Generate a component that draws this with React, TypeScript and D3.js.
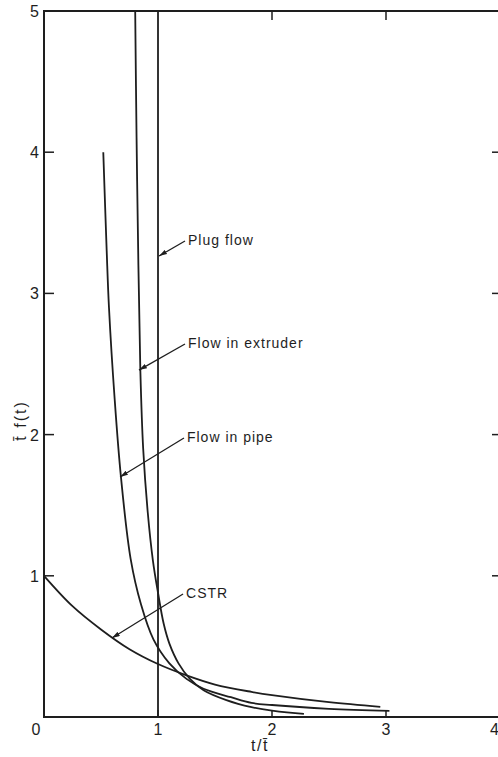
import React from "react";
import * as d3 from "d3";

// values: t/tbar vs tbar*f(t)
const cstr = [
  [0, 1.0], [0.25, 0.785], [0.5, 0.62], [0.75, 0.48], [1.0, 0.375],
  [1.25, 0.295], [1.5, 0.23], [1.82, 0.178], [2.0, 0.155], [2.5, 0.105], [2.95, 0.072],
];
const pipe = [
  [0.52, 4.0], [0.55, 3.3], [0.57, 2.9], [0.62, 2.25], [0.675, 1.7], [0.76, 1.12],
  [0.85, 0.8], [0.96, 0.55], [1.1, 0.38], [1.25, 0.27], [1.4, 0.2], [1.64, 0.14],
  [1.82, 0.1], [2.0, 0.085], [2.5, 0.058], [3.03, 0.043],
];
const extruder = [
  [0.8, 5.0], [0.812, 4.1], [0.828, 3.2], [0.845, 2.46], [0.87, 1.9], [0.91, 1.45],
  [0.955, 1.11], [1.0, 0.88], [1.05, 0.66], [1.1, 0.52], [1.18, 0.38], [1.28, 0.27],
  [1.4, 0.19], [1.6, 0.12], [1.82, 0.07], [2.0, 0.045], [2.28, 0.022],
];
const plug = [[1, 0], [1, 5]];

const xTicks = [0, 1, 2, 3, 4];
const yTicks = [1, 2, 3, 4, 5];

// label: text position and arrow tip, in data units
const labels = [
  { text: "Plug flow", x: 1.263, y: 3.343, tipX: 1.009, tipY: 3.265 },
  { text: "Flow in extruder", x: 1.263, y: 2.613, tipX: 0.833, tipY: 2.457 },
  { text: "Flow in pipe", x: 1.254, y: 1.948, tipX: 0.667, tipY: 1.7 },
  { text: "CSTR", x: 1.246, y: 0.843, tipX: 0.596, tipY: 0.559 },
];

const W = 498, H = 757;
const ink = "#1e1e1e";
const font = "'Liberation Sans', Arial, sans-serif";

const App = () => {
  const x = d3.scaleLinear().domain([0, 4]).range([44, 500]);
  const y = d3.scaleLinear().domain([0, 5]).range([717, 11]);
  const line = d3.line<number[]>()
    .x(d => x(d[0]))
    .y(d => y(d[1]))
    .curve(d3.curveCatmullRom.alpha(0.5));

  const [x0, x1] = x.range();
  const [y0, y1] = y.range();

  return (
    <svg width={W} height={H} style={{ position: "absolute", left: 0, top: 0, background: "#fff" }}>
      <defs>
        <marker id="arr" viewBox="0 0 10 6" refX="10" refY="3" markerWidth="8" markerHeight="5"
          orient="auto" markerUnits="userSpaceOnUse">
          <path d="M0,0 L10,3 L0,6 Z" fill={ink} />
        </marker>
      </defs>

      {/* frame */}
      <rect x={x0} y={y1} width={x1 - x0} height={y0 - y1} fill="none" stroke={ink} strokeWidth={2} />

      {/* inward ticks */}
      {xTicks.filter(t => t > 0 && t < 4).map(t => (
        <line key={"b" + t} x1={x(t)} x2={x(t)} y1={y0} y2={y0 - 7} stroke={ink} strokeWidth={1.5} />
      ))}
      {xTicks.filter(t => t > 1 && t < 4).map(t => (
        <line key={"t" + t} x1={x(t)} x2={x(t)} y1={y1} y2={y1 + 9} stroke={ink} strokeWidth={1.5} />
      ))}
      {yTicks.filter(t => t < 5).map(t => (
        <g key={"y" + t}>
          <line x1={x0} x2={x0 + 10} y1={y(t)} y2={y(t)} stroke={ink} strokeWidth={1.5} />
          <line x1={x1} x2={x1 - 8} y1={y(t)} y2={y(t)} stroke={ink} strokeWidth={1.5} />
        </g>
      ))}

      {/* tick labels */}
      {xTicks.map(t => (
        <text key={"xl" + t} x={t === 0 ? x(t) - 8 : t === 4 ? x1 - 1 : x(t)} y={y0 + 18}
          textAnchor={t === 4 ? "end" : "middle"} fontFamily={font} fontSize={16} fill={ink}>{t}</text>
      ))}
      {yTicks.map(t => (
        <text key={"yl" + t} x={x0 - 5} y={y(t) + 6} textAnchor="end"
          fontFamily={font} fontSize={16} fill={ink}>{t}</text>
      ))}

      {/* axis titles */}
      <text x={x(2) - 12} y={y0 + 34} textAnchor="middle" fontFamily={font} fontSize={16}
        letterSpacing={1.5} fill={ink}>
        t/t&#x0304;
      </text>
      <text transform={`translate(26,${y(2.1)}) rotate(-90)`} textAnchor="middle" fontFamily={font}
        fontSize={16} fill={ink} letterSpacing={2}>
        t&#x0304; f(t)
      </text>

      {/* curves */}
      {[plug, extruder, pipe, cstr].map((s, i) => (
        <path key={"c" + i} d={line(s) || ""} fill="none" stroke={ink} strokeWidth={1.8} />
      ))}

      {/* annotations */}
      {labels.map(l => (
        <g key={l.text}>
          <line x1={x(l.x) - 3} y1={y(l.y) - 4} x2={x(l.tipX)} y2={y(l.tipY)} stroke={ink}
            strokeWidth={1.3} markerEnd="url(#arr)" />
          <text x={x(l.x)} y={y(l.y)} fontFamily={font} fontSize={14} letterSpacing={1} fill={ink}>
            {l.text}
          </text>
        </g>
      ))}
    </svg>
  );
};

export default App;
